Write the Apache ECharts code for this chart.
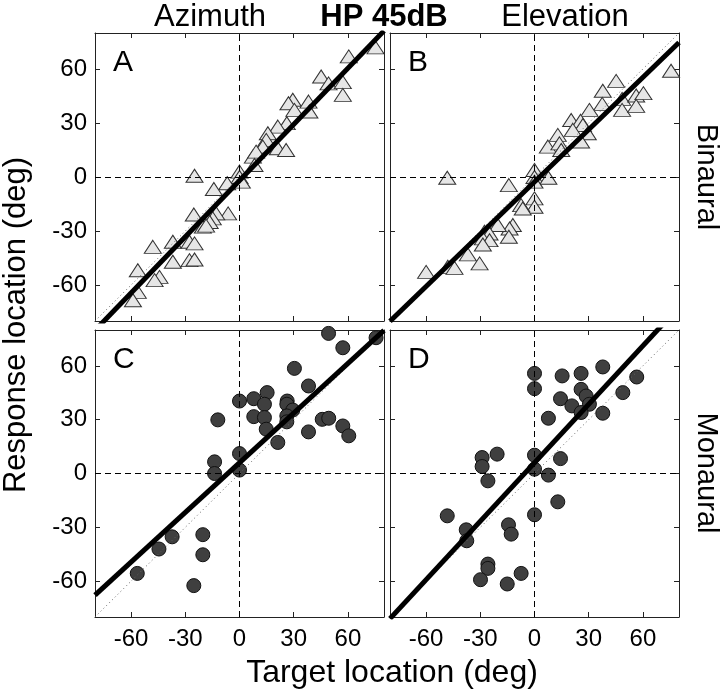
<!DOCTYPE html>
<html><head><meta charset="utf-8">
<script src="https://cdn.jsdelivr.net/npm/echarts@6/dist/echarts.min.js"></script>
<style>html,body{margin:0;padding:0;background:#fff}#c{width:720px;height:698px}</style>
</head><body><div id="c"></div>
<script>
// ---------- data (degrees) ----------
const tickValues = [-60, -30, 0, 30, 60];
const axisMin = -80, axisMax = 80;
const identityLine = [-80, 80];

// A: Azimuth, binaural
const azBinTarget = [75.3, 60.5, 45.2, 49.3, 57.2, 57.2, 29.5, 27.1, 30.4, 38.2, 38.7, 26.2, 21.2, 15.7, 14.8, 12.9, 7.4, 9.2, 21.2, 25.8, 8.3, 0, 0, 1.3, -24.9, -6.8, -14.2, -6.3, -12.9, -14.8, -25.3, -20.3, -36.9, -48, -27.7, -24.9, -36.9, -27.7, -24.9, -56.3, -44.3, -47, -56.3, -59, -16.5, -18.5];
const azBinResp   = [72, 67, 55.8, 52, 52.7, 45.6, 42.9, 41, 37.3, 41.9, 36.4, 29.9, 28, 24.3, 20.6, 16.9, 11.3, 14.1, 16, 15, 6.7, 3, 0, -2.6, 0.7, -3.5, -6.7, -20.2, -20.2, -23, -20.8, -27.6, -36, -38.8, -36, -36.9, -47.1, -46.2, -45.8, -51.8, -55.5, -57.3, -63.8, -68.5, -25, -27];

// B: Elevation, binaural
const elBinTarget = [75.6, 45.2, 37.8, 37.5, 30.4, 48.5, 48.5, 56.3, 60.3, 56.3, 20.3, 25.5, 26.8, 21.2, 29.5, 25.8, 12.9, 7.4, 13.8, 14.8, 0, 0, 7.7, 0, 0, 0, -14.2, -48.3, -7.4, -6.5, -12, -13.8, -14.2, -20.3, -27.7, -24.9, -28.6, -24.9, -28.6, -36.9, -30.4, -48, -44.3, -60];
const elBinResp   = [59, 53.4, 47.9, 40.6, 37.3, 43.4, 37.3, 45.3, 46.6, 39.5, 31.7, 31.2, 28.9, 26.2, 24.3, 19.7, 23.4, 16.9, 18.7, 15, 3.9, 0, -0.4, -2.6, -11.9, -16.5, -4.5, -0.4, -15.6, -17.5, -26.7, -28.6, -33.2, -26.7, -30.4, -31.4, -34.1, -35.1, -37.5, -43, -48, -49.9, -50.5, -52.7];

// C: Azimuth, monaural
const azMonTarget = [75.6, 49.3, 57.2, 30.4, 38.2, 0, 7.9, 15.3, 13.8, 26.4, 26.2, 29.5, 26.2, 26.2, 7.9, 13.8, 14.8, 21.2, 38.2, 45.8, 49.4, 57.2, 60.5, -12, -13.8, -13.8, 0, 0, -56.6, -44.6, -37.3, -20.3, -20.3, -25.3];
const azMonResp   = [75.7, 78.1, 70.1, 58.6, 48.8, 40.4, 41.7, 45.1, 38.6, 40.4, 38.6, 35.4, 32.1, 28.8, 31.7, 31.2, 24.7, 17.3, 23.2, 30.2, 30.8, 26.5, 21, 29.9, 6.5, 0, 11.1, 1.9, -55.7, -42.1, -35.3, -34.1, -45.3, -62.5];

// D: Elevation, monaural
const elMonTarget = [0, 0, 15.3, 25.8, 37.8, 56.6, 48.9, 14.4, 25.8, 28.6, 30.4, 20.7, 25.8, 37.8, 7.7, 0, 0, 7.7, 14.4, 12.9, 0, -20.7, -29, -29, -25.8, -48.3, -37.8, -37.5, -14.4, -12.9, -25.8, -25.8, -29.9, -15.1, -7.4];
const elMonResp   = [55.8, 47.3, 54.4, 55.8, 59.4, 53.8, 45.1, 41.7, 46.9, 43.2, 38.6, 37.7, 34, 33.6, 30.8, 10.2, 2.4, -0.9, 8.3, -15.8, -23, 10.8, 8.9, 3.9, -4.1, -23.6, -31.4, -37.5, -28.6, -33.8, -50.5, -52.9, -59.2, -61.6, -55.7];

// regression lines: response values at target = fitX
const fitX = [-80, 80];
const fitA = [-85.2, 81.2];
const fitB = [-80.1, 74.7];
const fitC = [-67.8, 79.8];
const fitD = [-80.9, 92.9];

const panelLetters = ['A', 'B', 'C', 'D'];
const colTitles = ['Azimuth', 'HP 45dB', 'Elevation'];
const rowTitles = ['Binaural', 'Monaural'];
const xTitle = 'Target location (deg)';
const yTitle = 'Response location (deg)';

// ---------- chart ----------
const FONT = '"Liberation Sans", Arial, Helvetica, sans-serif';
const grids = [
  {left: 95, top: 33, width: 289, height: 288},
  {left: 390, top: 33, width: 289, height: 288},
  {left: 95, top: 330, width: 289, height: 287},
  {left: 390, top: 330, width: 289, height: 287}
];
const panels = [
  {x: azBinTarget, y: azBinResp, fit: fitA, tri: true},
  {x: elBinTarget, y: elBinResp, fit: fitB, tri: true},
  {x: azMonTarget, y: azMonResp, fit: fitC, tri: false},
  {x: elMonTarget, y: elMonResp, fit: fitD, tri: false}
];

const axisLine = {show: true, onZero: false, lineStyle: {color: '#222', width: 1}};
const xAxes = [], yAxes = [], series = [];
grids.forEach((g, i) => {
  const showX = i >= 2, showY = i % 2 === 0;
  xAxes.push({
    gridIndex: i, type: 'value', min: axisMin, max: axisMax, position: 'bottom',
    axisLine, splitLine: {show: false},
    axisTick: {show: true, inside: true, length: 5, customValues: tickValues, lineStyle: {color: '#222'}},
    axisLabel: {show: showX, customValues: tickValues, margin: 10, fontSize: 24, color: '#000', fontFamily: FONT}
  });
  xAxes.push({
    gridIndex: i, type: 'value', min: axisMin, max: axisMax, position: 'top',
    axisLine, splitLine: {show: false},
    axisTick: {show: true, inside: true, length: 5, customValues: tickValues, lineStyle: {color: '#222'}},
    axisLabel: {show: false}
  });
  yAxes.push({
    gridIndex: i, type: 'value', min: axisMin, max: axisMax, position: 'left',
    axisLine, splitLine: {show: false},
    axisTick: {show: true, inside: true, length: 5, customValues: tickValues, lineStyle: {color: '#222'}},
    axisLabel: {show: showY, customValues: tickValues, margin: 8, fontSize: 24, color: '#000', fontFamily: FONT}
  });
  yAxes.push({
    gridIndex: i, type: 'value', min: axisMin, max: axisMax, position: 'right',
    axisLine, splitLine: {show: false},
    axisTick: {show: true, inside: true, length: 5, customValues: tickValues, lineStyle: {color: '#222'}},
    axisLabel: {show: false}
  });

  const p = panels[i];
  const xi = 2 * i, yi = 2 * i;
  series.push({
    type: 'scatter', xAxisIndex: xi, yAxisIndex: yi, z: 2,
    data: p.x.map((v, k) => [v, p.y[k]]),
    symbol: p.tri ? 'triangle' : 'circle',
    symbolSize: p.tri ? [17, 13] : 14,
    itemStyle: p.tri
      ? {color: '#e6e6e6', borderColor: '#333', borderWidth: 1, opacity: 1}
      : {color: '#3f3f3f', borderColor: '#111', borderWidth: 1, opacity: 1},
    silent: true
  });
  // identity (dotted) line
  series.push({
    type: 'line', xAxisIndex: xi, yAxisIndex: yi, z: 3, clip: true,
    data: identityLine.map(v => [v, v]), showSymbol: false, symbol: 'none',
    lineStyle: {color: '#666', width: 1, type: [1, 3]}, silent: true
  });
  // zero dashed lines
  series.push({
    type: 'line', xAxisIndex: xi, yAxisIndex: yi, z: 4, data: [],
    markLine: {
      silent: true, symbol: ['none', 'none'], label: {show: false}, animation: false,
      lineStyle: {color: '#000', width: 1, type: [6, 4]},
      emphasis: {disabled: true},
      data: [{xAxis: 0}, {yAxis: 0}]
    }
  });
  // regression line
  series.push({
    type: 'line', xAxisIndex: xi, yAxisIndex: yi, z: 5, clip: true,
    data: fitX.map((v, k) => [v, p.fit[k]]), showSymbol: false, symbol: 'none',
    lineStyle: {color: '#000', width: 5}, silent: true
  });
});

const txt = (text, x, y, size, opts = {}) => ({
  type: 'text', x, y, rotation: opts.rot || 0, z: 100,
  style: {
    text, fill: '#000',
    font: (opts.bold ? 'bold ' : '') + size + 'px ' + FONT,
    textAlign: opts.align || 'center', align: opts.align || 'center',
    textVerticalAlign: 'middle', verticalAlign: 'middle'
  }
});

const graphics = [
  txt(colTitles[0], 210, 17, 31),
  txt(colTitles[1], 384, 17, 31, {bold: true}),
  txt(colTitles[2], 565, 17, 31),
  txt(rowTitles[0], 706, 177, 29, {rot: -Math.PI / 2}),
  txt(rowTitles[1], 706, 473, 29, {rot: -Math.PI / 2}),
  txt(yTitle, 16, 325, 31, {rot: Math.PI / 2}),
  txt(xTitle, 392, 673, 32)
];
grids.forEach((g, i) => {
  graphics.push(txt(panelLetters[i], g.left + 18, g.top + 30, 30, {align: 'left'}));
});

const chart = echarts.init(document.getElementById('c'), null, {renderer: 'canvas'});
chart.setOption({
  animation: false,
  backgroundColor: '#fff',
  grid: grids,
  xAxis: xAxes,
  yAxis: yAxes,
  series,
  graphic: graphics
});
</script></body></html>
